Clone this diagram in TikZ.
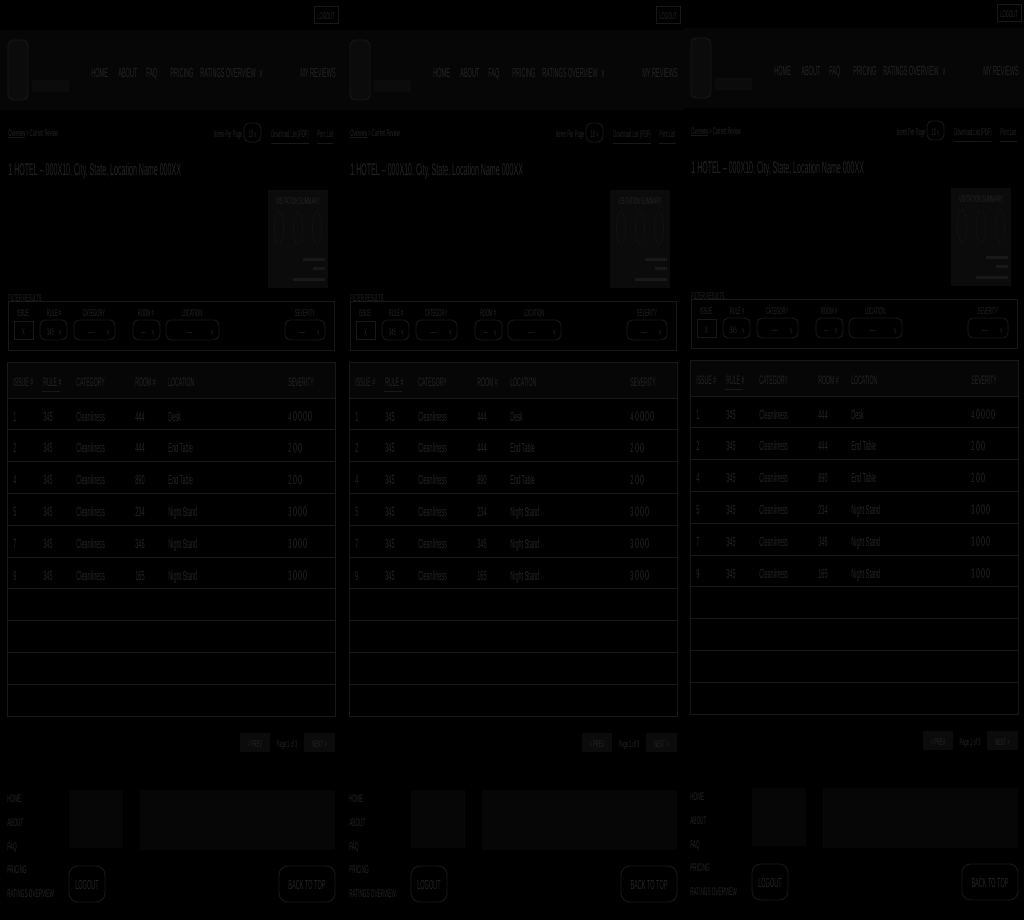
\documentclass[tikz,border=0pt]{standalone}
\usepackage{fontspec}
\setmainfont{Liberation Sans}[FakeStretch=0.42]
\usetikzlibrary{positioning}

\definecolor{ink}{gray}{0.14}
\definecolor{rulec}{gray}{0.095}
\definecolor{bandfill}{gray}{0.025}
\definecolor{cardfill}{gray}{0.045}

\begin{document}
\begin{tikzpicture}[
    x=0.02cm, y=-0.02cm, % one unit is one pixel of the mock-up
    every node/.style={inner sep=0pt, text=ink, anchor=west,
        text height=1.4ex, text depth=0.3ex}, % plain text labels
    smalltext/.style={font=\fontsize{5.5}{6}\selectfont},
    navtext/.style={font=\fontsize{7.5}{8}\selectfont},
    footnav/.style={font=\fontsize{6.3}{7}\selectfont},
    cell/.style={font=\fontsize{7.5}{8}\selectfont},
    headcell/.style={font=\fontsize{7}{8}\selectfont},
    btntext/.style={font=\fontsize{7.5}{8}\selectfont, anchor=center},
    titletext/.style={font=\fontsize{9.6}{11}\selectfont},
    frame/.style={draw=rulec, line width=0.5pt}, % square boxes
    knob/.style={draw=rulec, line width=0.5pt, rounded corners=2.5pt}, % dropdowns, buttons
    drop/.style={draw=rulec, line width=0.35pt, dash pattern=on 0.8pt off 1pt}
]
\fill[black] (0,0) rectangle (1024,920);
\useasboundingbox (0,0) rectangle (1024,920);

\foreach \dx/\dy/\p in {0/0/a, 342/0/b, 683/-2/c}{
\begin{scope}[shift={(\dx,\dy)}]
    % top bar and header
    \draw[frame] (314,6) rectangle (338,23);
    \node[smalltext, anchor=center] (logout-\p) at (326,14.5) {LOGOUT};
    \fill[bandfill] (0,30) rectangle (342,110);
    \draw[knob, rounded corners=3pt, fill=cardfill] (8,40) rectangle (28,100);
    \fill[cardfill] (32,80) rectangle (69,92);
    \node[navtext] (home-\p) at (91,72) {HOME};
    \node[navtext] (about-\p) at (118,72) {ABOUT};
    \node[navtext] (faq-\p) at (146,72) {FAQ};
    \node[navtext] (pricing-\p) at (170,72) {PRICING};
    \node[navtext] (ratings-\p) at (200,72) {RATINGS OVERVIEW \,v};
    \node[navtext] (reviews-\p) at (300,72) {MY REVIEWS};

    % breadcrumb and list tools
    \node[smalltext] (crumb-\p) at (8,131) {Overview > Current Review};
    \draw[rulec] (8,137) -- (25,137);
    \node[smalltext] (perpage-\p) at (214,132) {Items Per Page};
    \draw[knob, rounded corners=3pt] (244,123) rectangle (261,142);
    \node[smalltext, anchor=center] (ten-\p) at (252.5,132.5) {10 v};
    \node[smalltext] (pdf-\p) at (271,132) {Download List (PDF)};
    \draw[rulec] ([yshift=-2pt]pdf-\p.south west) -- ([yshift=-2pt]pdf-\p.south east);
    \node[smalltext] (print-\p) at (317,132) {Print List};
    \draw[rulec] ([yshift=-2pt]print-\p.south west) -- ([yshift=-2pt]print-\p.south east);

    \node[titletext] (title-\p) at (8,170) {1 HOTEL -- 000X10, City, State, Location Name 000XX};

    % summary card
    \fill[cardfill] (268,190) rectangle (328,288);
    \node[smalltext, anchor=center] (summary-\p) at (298,199) {VISITATION SUMMARY};
    \foreach \cx in {279,298,317}
        \draw[drop] (\cx,228) ellipse [x radius=2.6pt, y radius=9.2pt];
    \fill[rulec] (303,257.5) rectangle (325,260.5);
    \fill[rulec] (313,266.5) rectangle (325,269.5);
    \fill[rulec] (293,277.5) rectangle (325,280.5);

    % filters
    \node[smalltext] (filters-\p) at (8,296) {FILTER RESULTS .};
    \draw[frame] (8,301) rectangle (334,350);
    \foreach \xx/\t [count=\n] in {23/ISSUE, 54/RULE \#, 94/CATEGORY, 146/ROOM \#, 192/LOCATION, 305/SEVERITY}
        \node[smalltext, anchor=center] (flabel\n-\p) at (\xx,311) {\t};
    \draw[frame] (14,321) rectangle (33,339);
    \node[smalltext, anchor=center] (issuein-\p) at (23.5,330) {X};
    \foreach \a/\b/\t [count=\n] in {40/67/345, 74/115/-----, 133/160/---, 166/219/-----, 285/325/-----}{
        \draw[knob, rounded corners=3pt] (\a,320) rectangle (\b,340);
        \node[smalltext, anchor=center] (dd\n-\p) at ({(\a+\b)/2-3},330) {\t};
        \node[smalltext] (ddv\n-\p) at (\b-8,330) {v};
    }

    % results table
    \fill[bandfill] (7,362) rectangle (335,398);
    \draw[frame] (7,362) rectangle (335,716);
    \foreach \k in {0,...,9}
        \draw[rulec, line width=0.5pt] (7,{398+31.8*\k}) -- (335,{398+31.8*\k});
    \foreach \xx/\t [count=\n] in {13/ISSUE \#, 43/RULE \#, 76/CATEGORY, 135/ROOM \#, 168/LOCATION, 288/SEVERITY}
        \node[headcell] (head\n-\p) at (\xx,381) {\t};
    \draw[rulec] (42,391) -- (60,391);
    \foreach \iss/\room/\where/\sev [count=\r] in {1/444/Desk/4, 2/444/End Table/2, 4/890/End Table/2, 5/234/Night Stand/3, 7/346/Night Stand/3, 9/165/Night Stand/3}{
        \pgfmathsetmacro\yy{400+31.8*(\r-0.5)}
        \node[cell] (iss\r-\p) at (13,\yy) {\iss};
        \node[cell] (rule\r-\p) at (43,\yy) {345};
        \node[cell] (cat\r-\p) at (76,\yy) {Cleanliness};
        \node[cell] (room\r-\p) at (135,\yy) {\room};
        \node[cell] (loc\r-\p) at (168,\yy) {\where};
        \node[cell] (sev\r-\p) at (288,\yy) {\sev};
        \foreach \k in {1,...,\sev}
            \draw[rulec, line width=0.5pt] (290+5*\k,\yy) ellipse [x radius=0.9pt, y radius=2.6pt];
    }

    % pager
    \fill[cardfill] (240,733) rectangle (270,752);
    \node[smalltext, anchor=center] (prev-\p) at (255,742.5) {< PREV};
    \node[smalltext, anchor=center] (page-\p) at (287,742.5) {Page 1 of 3};
    \fill[cardfill] (304,733) rectangle (335,752);
    \node[smalltext, anchor=center] (next-\p) at (319.5,742.5) {NEXT >};

    % footer
    \foreach \t/\yy [count=\n] in {HOME/797, ABOUT/821, FAQ/845, PRICING/868, RATINGS OVERVIEW/892}
        \node[footnav] (fnav\n-\p) at (7,\yy) {\t};
    \fill[bandfill] (69,790) rectangle (123,848);
    \fill[bandfill] (140,790) rectangle (335,850);
    \draw[knob, rounded corners=5pt] (69,866) rectangle (105,902);
    \node[btntext] (flogout-\p) at (87,884) {LOGOUT};
    \draw[knob, rounded corners=5pt] (279,866) rectangle (335,902);
    \node[btntext] (backtop-\p) at (307,884) {BACK TO TOP};
\end{scope}
}
\end{tikzpicture}
\end{document}
